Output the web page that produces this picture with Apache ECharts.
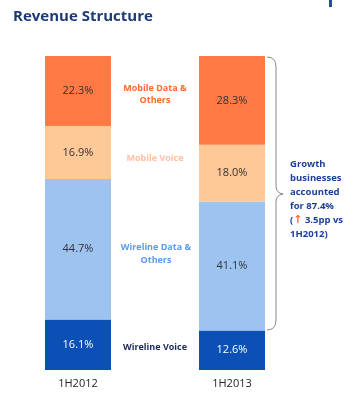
<!DOCTYPE html>
<html>
<head>
<meta charset="utf-8">
<script src="https://cdn.jsdelivr.net/npm/echarts@6/dist/echarts.min.js"></script>
<style>
  html, body { margin: 0; padding: 0; background: #fff; }
  #chart { width: 353px; height: 406px; }
</style>
</head>
<body>
<div id="chart"></div>
<script>
var periods = ['1H2012', '1H2013'];
var wirelineVoice = [16.1, 12.6];
var wirelineData = [44.7, 41.1];
var mobileVoice = [16.9, 18.0];
var mobileData = [22.3, 28.3];

var font = 'Open Sans';
var chart = echarts.init(document.getElementById('chart'));

function seg(name, data, color, labelColor) {
  return {
    name: name,
    type: 'bar',
    stack: 'rev',
    barWidth: 66,
    data: data,
    itemStyle: { color: color },
    label: {
      show: true,
      position: 'inside',
      formatter: function (p) { return p.value.toFixed(1) + '%'; },
      color: labelColor,
      fontSize: 11,
      fontFamily: font
    }
  };
}

var braceStyle = { fill: null, stroke: '#888', lineWidth: 1 };
function curve(x1, y1, cx, cy, x2, y2) {
  return { type: 'bezierCurve', shape: { x1: x1, y1: y1, cpx1: cx, cpy1: cy, x2: x2, y2: y2 }, style: braceStyle };
}
function vline(x, y1, y2) {
  return { type: 'line', shape: { x1: x, y1: y1, x2: x, y2: y2 }, style: braceStyle };
}

var option = {
  animation: false,
  title: {
    text: 'Revenue Structure',
    left: 8,
    top: 4,
    textStyle: { color: '#1c3a76', fontSize: 15, fontWeight: 'bold', fontFamily: font }
  },
  grid: { left: 1, width: 308, top: 56, bottom: 36 },
  xAxis: {
    type: 'category',
    data: periods,
    axisLine: { show: false },
    axisTick: { show: false },
    axisLabel: { color: '#222', fontSize: 11, fontFamily: font, margin: 8 }
  },
  yAxis: { type: 'value', min: 0, max: 100, show: false },
  series: [
    seg('Wireline Voice', wirelineVoice, '#0b51b5', '#fff'),
    seg('Wireline Data & Others', wirelineData, '#9dc3f1', '#333'),
    seg('Mobile Voice', mobileVoice, '#ffc897', '#333'),
    seg('Mobile Data & Others', mobileData, '#ff7a45', '#333')
  ],
  graphic: [
    { type: 'rect', shape: { x: 329, y: 0, width: 3, height: 7 }, style: { fill: '#1f4fa0' } },
    { type: 'text', x: 155, y: 94, style: { text: 'Mobile Data &\nOthers', align: 'center', verticalAlign: 'middle', fill: '#ff6a2a', font: 'bold 9px ' + font, lineHeight: 12 } },
    { type: 'text', x: 155, y: 158, style: { text: 'Mobile Voice', align: 'center', verticalAlign: 'middle', fill: '#ffbfa0', font: 'bold 9px ' + font } },
    { type: 'text', x: 156, y: 254, style: { text: 'Wireline Data &\nOthers', align: 'center', verticalAlign: 'middle', fill: '#5a9af0', font: 'bold 9px ' + font, lineHeight: 13 } },
    { type: 'text', x: 155, y: 347, style: { text: 'Wireline Voice', align: 'center', verticalAlign: 'middle', fill: '#1a2a5a', font: 'bold 9px ' + font } },
    curve(267, 57, 276, 57, 276, 67),
    vline(276, 67, 186),
    curve(276, 186, 276, 193, 283, 194),
    curve(283, 194, 276, 195, 276, 202),
    vline(276, 202, 320),
    curve(276, 320, 276, 330, 267, 330),
    {
      type: 'text', x: 290, y: 199,
      style: {
        text: 'Growth\nbusinesses\naccounted\nfor 87.4%\n({a|↑} 3.5pp vs\n1H2012)',
        verticalAlign: 'middle',
        fill: '#1b3f9a',
        fontFamily: font,
        fontSize: 9.5,
        fontWeight: 'bold',
        lineHeight: 14,
        rich: { a: { fill: '#ff6a2a', fontFamily: 'DejaVu Sans', fontSize: 11, fontWeight: 'bold', lineHeight: 14 } }
      }
    }
  ]
};
chart.setOption(option);
</script>
</body>
</html>
